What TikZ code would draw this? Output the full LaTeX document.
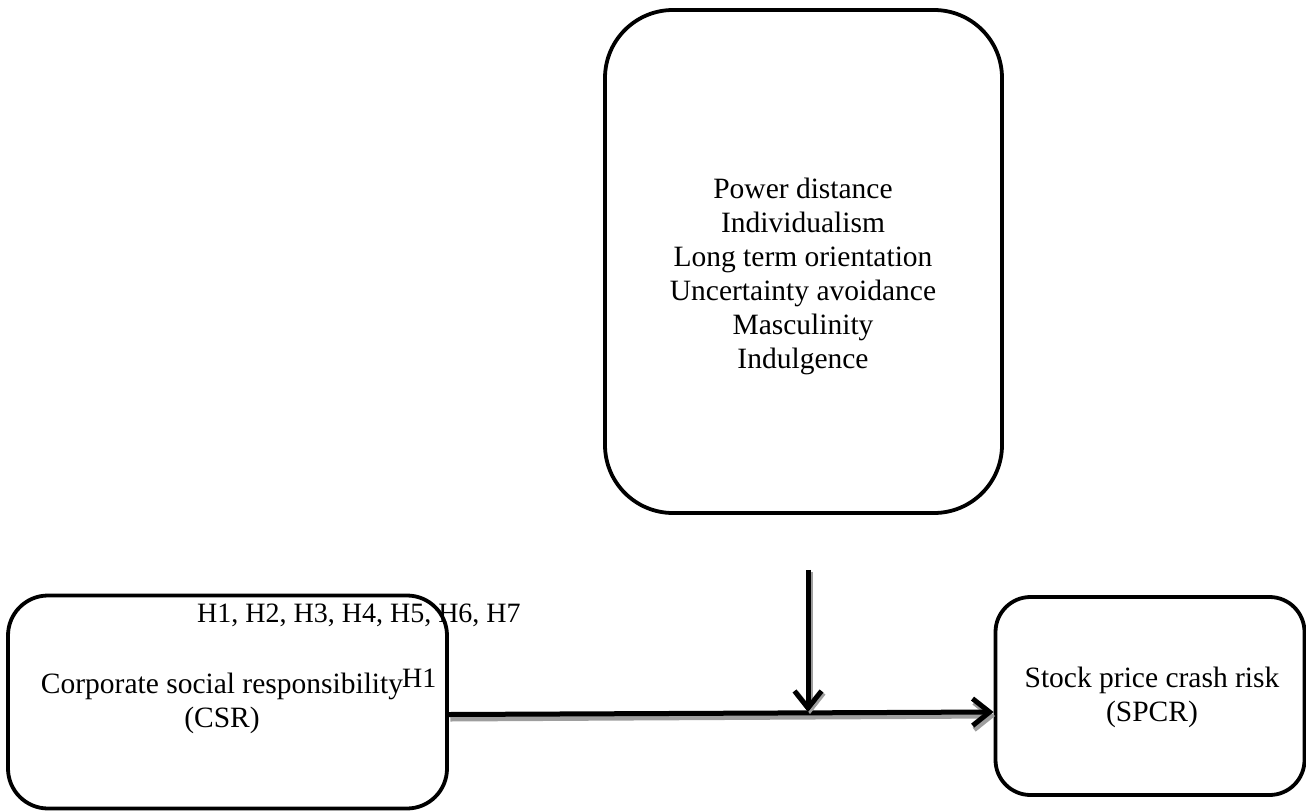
\documentclass[tikz,border=0pt]{standalone}
\usepackage{fontspec}
\setmainfont{Liberation Serif}
\usetikzlibrary{arrows.meta}
\begin{document}
\begin{tikzpicture}[x=1pt,y=-1pt,
  box/.style={draw=black, line width=3.8pt, fill=white, inner sep=0pt},
  txt/.style={align=center, font=\fontsize{29.5}{34}\selectfont, inner sep=0pt},
  lbl/.style={font=\fontsize{28}{32}\selectfont, inner sep=0pt},
  arr/.style={line width=5pt, -{Straight Barb[length=17pt,width=27pt,line width=5pt]}},
  shade/.style={arr, draw=black!38}]
  \useasboundingbox (0,0) rectangle (1306,811);

  % the three boxes
  \node[box, rounded corners=68pt, minimum width=397pt, minimum height=503pt] (culture) at (803.5,261.5) {};
  \node[box, rounded corners=40pt, minimum width=439pt, minimum height=213pt] (csr) at (227.5,702) {};
  \node[box, rounded corners=35pt, minimum width=309pt, minimum height=198pt] (spcr) at (1150,696) {};

  % box contents
  \node[txt] (dims) at (803,276) {Power distance\\Individualism\\Long term orientation\\Uncertainty avoidance\\Masculinity\\Indulgence};
  \node[txt] (csrtxt) at (222,703) {Corporate social responsibility\\(CSR)};
  \node[txt] (spcrtxt) at (1152,697) {Stock price crash risk\\(SPCR)};

  % hypothesis labels
  \node[lbl, anchor=west] (hall) at (197,615) {H1, H2, H3, H4, H5, H6, H7};
  \node[lbl, anchor=west] (hone) at (402,678) {H1};

  % main path with its shadow
  \coordinate (meet) at (808,712);
  \draw[shade] ([xshift=1.5pt,yshift=-17pt]csr.east) -- ([xshift=1.5pt,yshift=-20pt]spcr.west);
  \draw[arr] ([yshift=-12.5pt]csr.east) -- ([yshift=-16pt]spcr.west);

  % moderating path with its shadow
  \draw[shade] ([xshift=6.5pt,yshift=-57pt]culture.south) -- ([xshift=2pt,yshift=-2pt]meet);
  \draw[arr] ([xshift=4.5pt,yshift=-55pt]culture.south) -- (meet);
\end{tikzpicture}
\end{document}
